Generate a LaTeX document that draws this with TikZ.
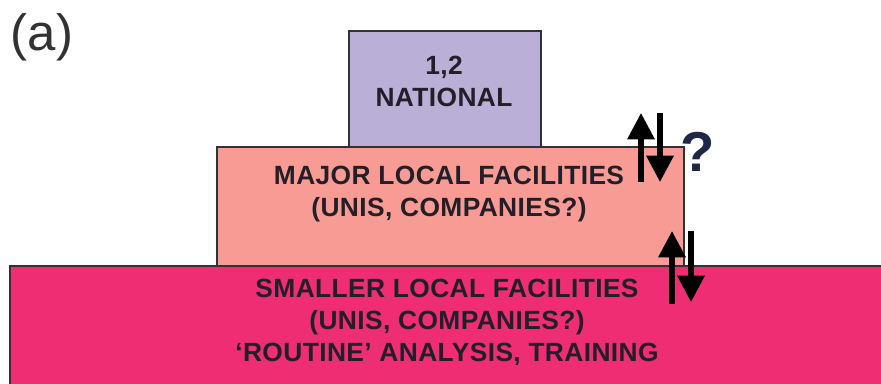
\documentclass[tikz,border=0pt]{standalone}
\usepackage{fontspec}
\setmainfont{Liberation Sans}
\newfontfamily\tierfont[LetterSpace=1.5]{Liberation Sans}
\usetikzlibrary{arrows.meta}
\definecolor{natfill}{RGB}{185,175,215}
\definecolor{majfill}{RGB}{247,155,148}
\definecolor{smlfill}{RGB}{238,45,115}
\definecolor{edge}{RGB}{50,50,50}
\definecolor{ink}{RGB}{35,31,40}
\definecolor{qmark}{RGB}{30,40,70}
\tikzset{
  tier/.style={draw=edge, line width=1.1pt, inner sep=0pt, anchor=north west},
  label/.style={font=\tierfont\bfseries\fontsize{15}{18.2}\selectfont, text=ink, align=center, inner sep=0pt},
  flow/.style={line width=3pt, draw=black, -{Triangle[width=15pt,length=15pt]}}
}
\begin{document}
\begin{tikzpicture}[x=0.02cm,y=-0.02cm]
\useasboundingbox (0,0) rectangle (881,383);
\begin{scope}
\clip (0,0) rectangle (881,383);
% base tier runs off the right and bottom edges
\node[tier, fill=smlfill, minimum width=0.02cm*900, minimum height=0.02cm*140] (small) at (9,265) {};
\end{scope}
\node[tier, fill=majfill, minimum width=0.02cm*467, minimum height=0.02cm*119] (major) at (216,146) {};
\node[tier, fill=natfill, minimum width=0.02cm*192, minimum height=0.02cm*116] (nat) at (348,30) {};

\node[label] (nattext) at (444,81) {1,2\\NATIONAL};
\node[label] (majtext) at (449,194) {MAJOR LOCAL FACILITIES\\(UNIS, COMPANIES?)};
\node[label] (smltext) at (447,322) {SMALLER LOCAL FACILITIES\\(UNIS, COMPANIES?)\\‘ROUTINE’ ANALYSIS, TRAINING};

% exchange between tiers
\coordinate (u1a) at (641,182); \coordinate (u1b) at (641,113);
\coordinate (d1a) at (660,113); \coordinate (d1b) at (660,182);
\coordinate (u2a) at (672,304); \coordinate (u2b) at (672,231);
\coordinate (d2a) at (691,231); \coordinate (d2b) at (691,302);
\draw[flow] (u1a) -- (u1b);
\draw[flow] (d1a) -- (d1b);
\draw[flow] (u2a) -- (u2b);
\draw[flow] (d2a) -- (d2b);
\node[font=\bfseries\fontsize{32}{34}\selectfont, text=qmark, inner sep=0pt] (q) at (698,152) {?};

\node[font=\fontsize{29}{32}\selectfont, text=edge, inner sep=0pt] (tag) at (42,37) {(a)};
\end{tikzpicture}
\end{document}
